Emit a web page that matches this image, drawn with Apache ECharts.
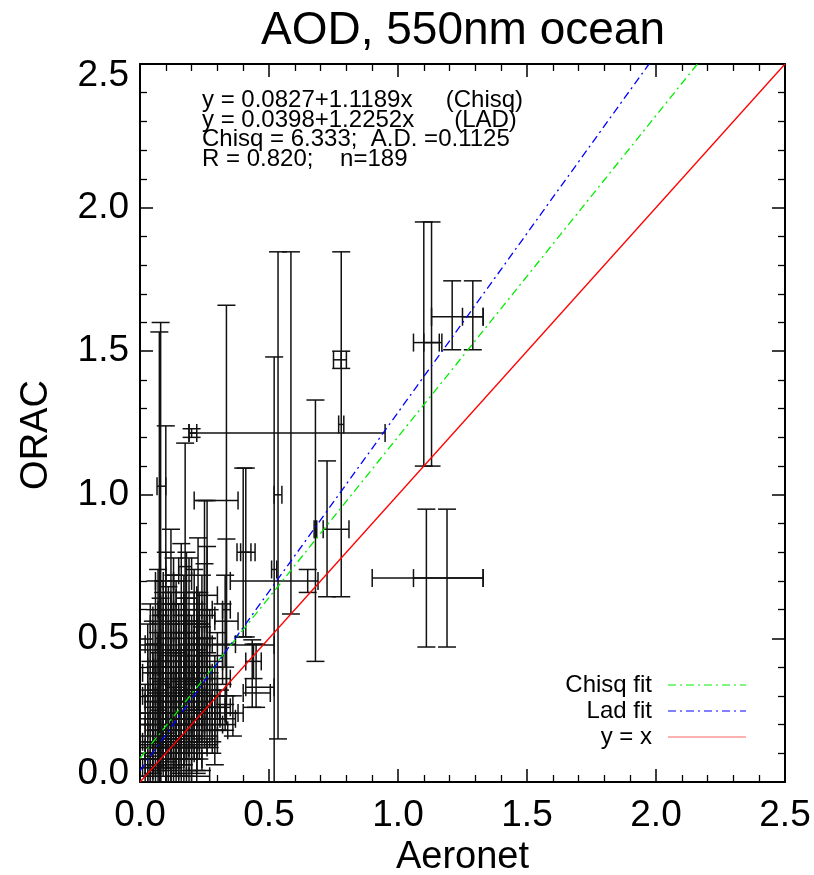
<!DOCTYPE html>
<html>
<head>
<meta charset="utf-8">
<script src="https://cdn.jsdelivr.net/npm/echarts@6/dist/echarts.min.js"></script>
<style>
html,body{margin:0;padding:0;background:#fff;}
#map{width:814px;height:875px;}
</style>
</head>
<body>
<div id="map"></div>
<script>
// each point: [aeronet, orac, xlow, xhigh, ylow, yhigh]
var highPts = [
	[1.11, 0.71, 0.90, 1.33, 0.47, 0.95],
	[1.19, 0.71, 1.06, 1.33, 0.47, 0.95],
	[1.10, 1.53, 1.06, 1.17, 1.10, 1.95],
	[1.13, 1.53, 1.10, 1.16, 1.10, 1.95],
	[1.21, 1.62, 1.13, 1.33, 1.505, 1.745],
	[1.29, 1.62, 1.25, 1.33, 1.505, 1.745]
];
var midPts = [
	[0.08, 1.03, 0.066, 0.10, 0.40, 1.60],
	[0.075, 0.70, 0.06, 0.09, 0.0, 1.567],
	[0.10, 0.62, 0.08, 0.12, 0.0, 1.24],
	[0.175, 0.75, 0.15, 0.20, 0.30, 1.18],
	[0.20, 1.215, 0.19, 0.22, 1.20, 1.23],
	[0.585, 1.215, 0.19, 0.95, 0.585, 1.846],
	[0.535, 1.00, 0.52, 0.55, 0.15, 1.846],
	[0.52, 0.74, 0.51, 0.53, 0.0, 1.48],
	[0.335, 0.98, 0.21, 0.38, 0.20, 1.66],
	[0.335, 0.60, 0.32, 0.35, 0.30, 0.846],
	[0.25, 0.55, 0.23, 0.27, 0.12, 0.98],
	[0.26, 0.60, 0.24, 0.28, 0.22, 0.98],
	[0.225, 0.55, 0.20, 0.25, 0.25, 0.85],
	[0.40, 0.80, 0.376, 0.446, 0.505, 1.093],
	[0.41, 0.80, 0.39, 0.43, 0.505, 1.093],
	[0.78, 1.245, 0.77, 0.79, 0.645, 1.846],
	[0.78, 1.47, 0.75, 0.80, 1.44, 1.50],
	[0.725, 0.88, 0.71, 0.81, 0.645, 1.118],
	[0.68, 0.88, 0.675, 0.685, 0.42, 1.33],
	[0.65, 0.70, 0.35, 0.69, 0.66, 0.74],
	[0.435, 0.31, 0.40, 0.505, 0.26, 0.495],
	[0.44, 0.42, 0.41, 0.47, 0.36, 0.48],
	[0.45, 0.33, 0.41, 0.52, 0.26, 0.48],
	[0.26, 0.477, 0.0, 0.52, 0.45, 0.50],
	[0.30, 0.24, 0.25, 0.38, 0.18, 0.30],
	[0.33, 0.22, 0.29, 0.37, 0.18, 0.27],
	[0.36, 0.24, 0.33, 0.40, 0.16, 0.30]
];
var clusterPts = [
	[0.03, 0.05, 0.01, 0.05, 0.00, 0.12],
	[0.04, 0.10, 0.02, 0.07, 0.02, 0.20],
	[0.05, 0.03, 0.03, 0.08, 0.00, 0.09],
	[0.05, 0.18, 0.03, 0.09, 0.08, 0.30],
	[0.06, 0.08, 0.04, 0.09, 0.00, 0.18],
	[0.06, 0.25, 0.04, 0.10, 0.12, 0.40],
	[0.07, 0.14, 0.05, 0.10, 0.04, 0.26],
	[0.07, 0.35, 0.05, 0.11, 0.18, 0.52],
	[0.08, 0.05, 0.06, 0.10, 0.00, 0.14],
	[0.08, 0.22, 0.06, 0.12, 0.10, 0.34],
	[0.09, 0.12, 0.07, 0.12, 0.02, 0.22],
	[0.09, 0.30, 0.06, 0.13, 0.15, 0.46],
	[0.10, 0.40, 0.07, 0.14, 0.22, 0.60],
	[0.10, 0.08, 0.08, 0.13, 0.00, 0.17],
	[0.11, 0.18, 0.08, 0.15, 0.07, 0.30],
	[0.11, 0.50, 0.08, 0.15, 0.30, 0.68],
	[0.12, 0.26, 0.09, 0.16, 0.12, 0.42],
	[0.12, 0.04, 0.10, 0.15, 0.00, 0.12],
	[0.13, 0.33, 0.10, 0.17, 0.18, 0.50],
	[0.13, 0.15, 0.10, 0.17, 0.05, 0.26],
	[0.14, 0.45, 0.11, 0.18, 0.28, 0.62],
	[0.14, 0.10, 0.11, 0.18, 0.00, 0.20],
	[0.15, 0.22, 0.12, 0.19, 0.10, 0.35],
	[0.15, 0.38, 0.12, 0.20, 0.22, 0.56],
	[0.16, 0.28, 0.12, 0.21, 0.14, 0.44],
	[0.16, 0.06, 0.13, 0.20, 0.00, 0.15],
	[0.17, 0.52, 0.13, 0.22, 0.34, 0.72],
	[0.17, 0.18, 0.14, 0.21, 0.06, 0.30],
	[0.18, 0.35, 0.14, 0.23, 0.20, 0.52],
	[0.18, 0.12, 0.15, 0.22, 0.02, 0.24],
	[0.19, 0.25, 0.15, 0.24, 0.12, 0.40],
	[0.19, 0.44, 0.16, 0.24, 0.28, 0.60],
	[0.20, 0.30, 0.16, 0.25, 0.16, 0.46],
	[0.20, 0.08, 0.17, 0.24, 0.00, 0.18],
	[0.21, 0.55, 0.17, 0.26, 0.36, 0.74],
	[0.21, 0.20, 0.18, 0.25, 0.08, 0.34],
	[0.22, 0.38, 0.18, 0.27, 0.22, 0.56],
	[0.23, 0.28, 0.19, 0.28, 0.14, 0.44],
	[0.23, 0.48, 0.20, 0.27, 0.32, 0.66],
	[0.24, 0.15, 0.20, 0.29, 0.04, 0.28],
	[0.25, 0.34, 0.21, 0.30, 0.20, 0.50],
	[0.25, 0.58, 0.22, 0.29, 0.40, 0.76],
	[0.26, 0.22, 0.22, 0.31, 0.10, 0.36],
	[0.27, 0.42, 0.23, 0.32, 0.26, 0.60],
	[0.28, 0.26, 0.24, 0.33, 0.14, 0.40],
	[0.29, 0.18, 0.25, 0.34, 0.06, 0.30],
	[0.30, 0.36, 0.26, 0.35, 0.22, 0.52],
	[0.32, 0.48, 0.28, 0.37, 0.34, 0.62],
	[0.33, 0.56, 0.29, 0.38, 0.40, 0.72],
	[0.02, 0.02, 0.00, 0.04, 0.00, 0.08],
	[0.03, 0.14, 0.01, 0.06, 0.05, 0.24],
	[0.04, 0.28, 0.02, 0.07, 0.14, 0.42],
	[0.10, 0.60, 0.07, 0.13, 0.40, 0.80],
	[0.13, 0.62, 0.10, 0.17, 0.46, 0.78],
	[0.18, 0.64, 0.14, 0.22, 0.50, 0.80],
	[0.22, 0.02, 0.18, 0.27, 0.00, 0.10],
	[0.15, 0.02, 0.12, 0.19, 0.00, 0.08],
	[0.07, 0.58, 0.05, 0.10, 0.42, 0.74],
	[0.12, 0.72, 0.10, 0.15, 0.55, 0.88],
	[0.16, 0.70, 0.13, 0.20, 0.58, 0.83],
	[0.26, 0.65, 0.22, 0.30, 0.50, 0.82],
	[0.06, 0.45, 0.04, 0.09, 0.30, 0.60],
	[0.09, 0.13, 0.00, 0.30, 0.05, 0.22],
	[0.12, 0.31, 0.03, 0.27, 0.20, 0.42],
	[0.02, 0.20, 0.00, 0.05, 0.08, 0.34],
	[0.03, 0.38, 0.01, 0.06, 0.22, 0.55],
	[0.04, 0.06, 0.02, 0.07, 0.00, 0.14],
	[0.05, 0.40, 0.03, 0.08, 0.26, 0.56],
	[0.05, 0.12, 0.02, 0.09, 0.03, 0.22],
	[0.06, 0.32, 0.03, 0.10, 0.18, 0.48],
	[0.07, 0.22, 0.04, 0.11, 0.10, 0.36],
	[0.07, 0.04, 0.05, 0.10, 0.00, 0.10],
	[0.08, 0.42, 0.05, 0.12, 0.28, 0.58],
	[0.08, 0.15, 0.05, 0.12, 0.05, 0.28],
	[0.09, 0.50, 0.06, 0.12, 0.34, 0.66],
	[0.09, 0.24, 0.06, 0.13, 0.12, 0.38],
	[0.10, 0.16, 0.07, 0.14, 0.06, 0.28],
	[0.10, 0.30, 0.07, 0.13, 0.16, 0.44],
	[0.11, 0.10, 0.08, 0.15, 0.00, 0.22],
	[0.11, 0.36, 0.08, 0.15, 0.22, 0.52],
	[0.12, 0.45, 0.08, 0.16, 0.30, 0.62],
	[0.12, 0.18, 0.09, 0.16, 0.08, 0.30],
	[0.13, 0.24, 0.09, 0.17, 0.12, 0.38],
	[0.13, 0.05, 0.10, 0.16, 0.00, 0.14],
	[0.14, 0.30, 0.10, 0.18, 0.16, 0.46],
	[0.14, 0.55, 0.11, 0.18, 0.38, 0.70],
	[0.15, 0.12, 0.12, 0.19, 0.03, 0.24],
	[0.15, 0.46, 0.12, 0.19, 0.30, 0.62],
	[0.16, 0.20, 0.13, 0.20, 0.08, 0.32],
	[0.16, 0.36, 0.13, 0.20, 0.22, 0.52],
	[0.17, 0.10, 0.14, 0.21, 0.00, 0.22],
	[0.17, 0.28, 0.14, 0.21, 0.16, 0.42],
	[0.18, 0.22, 0.15, 0.22, 0.10, 0.36],
	[0.18, 0.48, 0.15, 0.22, 0.32, 0.64],
	[0.19, 0.14, 0.16, 0.23, 0.04, 0.26],
	[0.19, 0.36, 0.16, 0.23, 0.22, 0.52],
	[0.20, 0.22, 0.17, 0.24, 0.10, 0.36],
	[0.20, 0.40, 0.17, 0.24, 0.26, 0.56],
	[0.21, 0.30, 0.18, 0.25, 0.18, 0.44],
	[0.22, 0.12, 0.19, 0.26, 0.03, 0.24],
	[0.22, 0.46, 0.19, 0.26, 0.30, 0.62],
	[0.23, 0.20, 0.20, 0.27, 0.08, 0.34],
	[0.24, 0.38, 0.21, 0.28, 0.24, 0.54],
	[0.24, 0.26, 0.21, 0.28, 0.14, 0.40],
	[0.26, 0.30, 0.23, 0.30, 0.18, 0.44],
	[0.27, 0.24, 0.24, 0.31, 0.12, 0.38],
	[0.28, 0.20, 0.25, 0.32, 0.10, 0.32],
	[0.29, 0.30, 0.26, 0.33, 0.18, 0.44],
	[0.31, 0.26, 0.28, 0.35, 0.20, 0.32],
	[0.03, 0.30, 0.01, 0.06, 0.16, 0.46],
	[0.04, 0.48, 0.02, 0.07, 0.32, 0.62],
	[0.06, 0.55, 0.04, 0.09, 0.38, 0.70],
	[0.08, 0.32, 0.05, 0.11, 0.18, 0.64],
	[0.09, 0.40, 0.06, 0.12, 0.10, 0.70],
	[0.11, 0.28, 0.08, 0.14, 0.05, 0.56],
	[0.12, 0.38, 0.09, 0.15, 0.14, 0.66],
	[0.13, 0.42, 0.10, 0.16, 0.20, 0.72],
	[0.14, 0.20, 0.11, 0.17, 0.02, 0.46],
	[0.15, 0.30, 0.12, 0.18, 0.08, 0.60],
	[0.17, 0.40, 0.14, 0.20, 0.16, 0.66],
	[0.18, 0.30, 0.15, 0.21, 0.08, 0.58],
	[0.19, 0.55, 0.16, 0.22, 0.32, 0.78],
	[0.21, 0.42, 0.18, 0.24, 0.20, 0.66],
	[0.22, 0.25, 0.19, 0.25, 0.04, 0.50],
	[0.23, 0.36, 0.20, 0.26, 0.14, 0.60],
	[0.24, 0.50, 0.21, 0.27, 0.28, 0.72],
	[0.05, 0.24, 0.00, 0.12, 0.20, 0.28],
	[0.10, 0.20, 0.02, 0.20, 0.16, 0.24],
	[0.15, 0.40, 0.05, 0.26, 0.36, 0.44],
	[0.20, 0.16, 0.08, 0.30, 0.12, 0.20],
	[0.07, 0.10, 0.00, 0.16, 0.06, 0.14]
];
// fit lines (from the printed coefficients) and the 1:1 line
var chisqFit = [[0, 0.0827], [2.1605, 2.5]];
var ladFit = [[0, 0.0398], [1.9729, 2.5]];
var oneToOne = [[0, 0], [2.5, 2.5]];
var fitText = [
	'y = 0.0827+1.1189x     (Chisq)',
	'y = 0.0398+1.2252x      (LAD)',
	'Chisq = 6.333;  A.D. =0.1125',
	'R = 0.820;    n=189'
];
var legendNames = ['Chisq fit', 'Lad fit', 'y = x'];
var legendColors = ['#00ee00', '#0000ff', '#ff0000'];

var allPts = clusterPts.concat(midPts).concat(highPts);
var dashDot = [8, 4, 2, 4];

function errbar(params, api)
{
	var x = api.value(0), y = api.value(1);
	var l = api.coord([api.value(2), y]);
	var r = api.coord([api.value(3), y]);
	var b = api.coord([x, api.value(4)]);
	var t = api.coord([x, api.value(5)]);
	var h = 9;
	var st = {stroke: '#111', lineWidth: 1.5, fill: null};
	function seg(x1, y1, x2, y2) {
		return {type: 'line', shape: {x1: x1, y1: y1, x2: x2, y2: y2}, style: st};
	}
	return {type: 'group', children: [
		seg(l[0], l[1], r[0], r[1]),
		seg(l[0], l[1] - h, l[0], l[1] + h),
		seg(r[0], r[1] - h, r[0], r[1] + h),
		seg(b[0], b[1], t[0], t[1]),
		seg(b[0] - h, b[1], b[0] + h, b[1]),
		seg(t[0] - h, t[1], t[0] + h, t[1])
	]};
}

function axisBase(show)
{
	return {
		type: 'value', min: 0, max: 2.5, interval: 0.5,
		axisLine: {show: true, onZero: false, lineStyle: {color: '#000', width: 2}},
		axisTick: {show: true, inside: true, length: 13, lineStyle: {color: '#000', width: 1.5}},
		minorTick: {show: true, splitNumber: 5, length: 7, lineStyle: {color: '#000', width: 1.3}},
		splitLine: {show: false},
		axisLabel: {show: show}
	};
}

var xBottom = axisBase(true);
xBottom.position = 'bottom';
xBottom.name = 'Aeronet';
xBottom.nameLocation = 'middle';
xBottom.nameGap = 55;
xBottom.nameTextStyle = {fontSize: 38, color: '#000', fontFamily: 'Liberation Sans'};
xBottom.axisLabel = {show: true, fontSize: 37, color: '#000', margin: 15, fontFamily: 'Liberation Sans',
	formatter: function (v) { return v.toFixed(1); }};
var xTop = axisBase(false);
xTop.position = 'top';

var yLeft = axisBase(true);
yLeft.position = 'left';
yLeft.name = 'ORAC';
yLeft.nameLocation = 'middle';
yLeft.nameGap = 84;
yLeft.nameTextStyle = {fontSize: 38, color: '#000', fontFamily: 'Liberation Sans', padding: [0, 24, 0, 0]};
yLeft.axisLabel = {show: true, fontSize: 37, color: '#000', margin: 11, fontFamily: 'Liberation Sans',
	formatter: function (v) {
		if (v === 0) return '{lo|0.0}';
		if (v === 2.5) return '{hi|2.5}';
		return v.toFixed(1);
	},
	rich: {
		lo: {fontSize: 37, color: '#000', fontFamily: 'Liberation Sans', padding: [0, 0, 16, 0]},
		hi: {fontSize: 37, color: '#000', fontFamily: 'Liberation Sans', padding: [24, 0, 0, 0]}
	}};
var yRight = axisBase(false);
yRight.position = 'right';

var graphics = [
	{type: 'text', x: 463, y: 8, style: {text: 'AOD, 550nm ocean', align: 'center', verticalAlign: 'top',
		fontSize: 46, fill: '#000', fontFamily: 'Liberation Sans'}},
	{type: 'text', x: 202, y: 91, style: {text: fitText.join('\n'), fontSize: 24, lineHeight: 19.5,
		fill: '#000', fontFamily: 'Liberation Sans', verticalAlign: 'top'}}
];
var legY = [685, 711, 737];
for (var i = 0; i < legendNames.length; i++)
{
	graphics.push({type: 'text', x: 652, y: legY[i], style: {text: legendNames[i], align: 'right', verticalAlign: 'middle',
		fontSize: 24, fill: '#000', fontFamily: 'Liberation Sans'}});
	graphics.push({type: 'line', shape: {x1: 668, y1: legY[i], x2: 746, y2: legY[i]},
		style: {stroke: legendColors[i], lineWidth: 1.2, lineDash: i < 2 ? dashDot : null, opacity: i == 2 ? 0.6 : 1}});
}

var myecharts = echarts.init(document.getElementById('map'));
var option = {
	backgroundColor: '#fff',
	animation: false,
	grid: {left: 140, right: 29, top: 64, bottom: 93, containLabel: false, outerBoundsMode: 'none'},
	xAxis: [xBottom, xTop],
	yAxis: [yLeft, yRight],
	graphic: graphics,
	series: [
		{type: 'custom', renderItem: errbar, data: allPts, clip: true, z: 2},
		{type: 'line', data: chisqFit, symbol: 'none', z: 4,
			lineStyle: {color: legendColors[0], width: 1.3, type: dashDot}},
		{type: 'line', data: ladFit, symbol: 'none', z: 4,
			lineStyle: {color: legendColors[1], width: 1.3, type: dashDot}},
		{type: 'line', data: oneToOne, symbol: 'none', z: 4,
			lineStyle: {color: legendColors[2], width: 1.3}}
	]
};
myecharts.setOption(option);
</script>
</body>
</html>
